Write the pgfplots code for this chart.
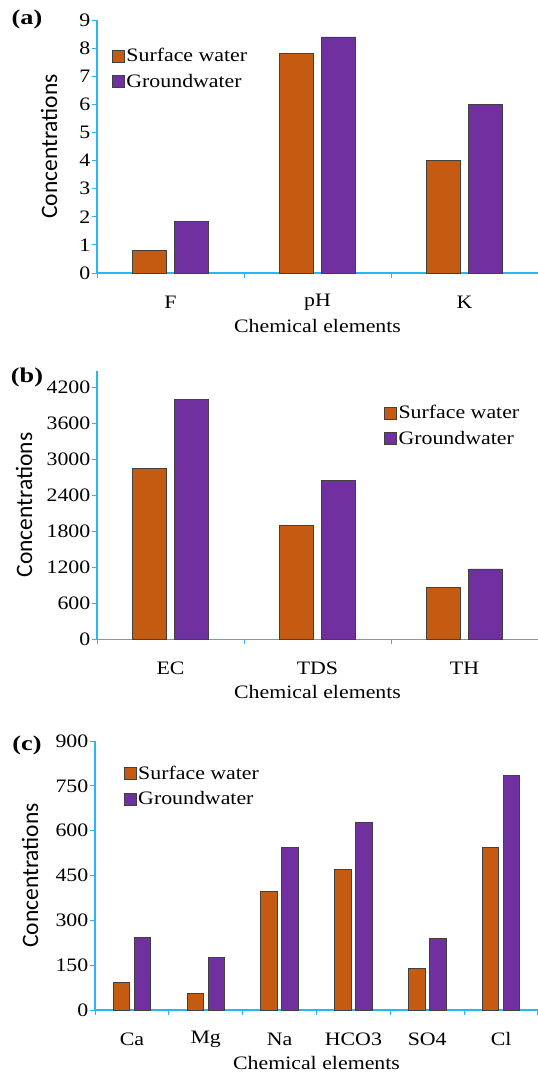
\documentclass[border=0pt]{standalone}
\usepackage{fontspec}
\setmainfont{Liberation Serif}[FakeStretch=1.15]
\newfontfamily\calfont{Carlito}
\newfontfamily\panelfont{Liberation Serif}[FakeStretch=1.25]
\usepackage{pgfplots}
\pgfplotsset{compat=1.18}

\definecolor{surf}{RGB}{197,90,17}
\definecolor{grnd}{RGB}{112,48,160}
\definecolor{axblue}{RGB}{41,182,246}
\definecolor{edge}{RGB}{64,64,64}

\newcommand{\txt}{\fontsize{19bp}{22bp}\selectfont}

\pgfplotsset{
  panel/.style={
    scale only axis,
    anchor=south west,
    axis lines*=left,
    axis line style={axblue, line width=1.5bp, -},
    ymin=0,
    tick align=outside,
    major tick length=5bp, minor tick length=5bp,
    major x tick style={draw=none},
    minor x tick style={axblue, line width=1bp},
    y tick style={axblue, line width=1bp},
    tick label style={font=\txt},
    yticklabel style={inner xsep=1.5bp},
    xticklabel style={anchor=center, yshift=-24bp},
    /pgf/number format/assume math mode=true,
    /pgf/number format/1000 sep={},
    every axis x label/.style={at={(rel axis cs:0.5,0)}, anchor=center, yshift=-53bp, font=\txt},
    every axis y label/.style={at={(rel axis cs:0,0.5)}, rotate=90, anchor=center,
      font=\calfont\fontsize{23.5bp}{26bp}\selectfont},
    xlabel={Chemical elements},
    ylabel={Concentrations},
    every axis plot/.append style={draw=edge, line width=0.75bp},
    legend cell align=left,
    legend style={draw=none, fill=none, font=\txt, anchor=north west,
      inner sep=0pt, row sep=8bp, nodes={inner sep=1.5bp}},
  },
  sqlegend/.style={
    legend image code/.code={\draw[##1, draw=edge, line width=0.75bp] (0bp,-6bp) rectangle (12bp,6bp);},
  },
}

\begin{document}
\begin{tikzpicture}
\useasboundingbox (0,0) rectangle (538bp,-1080bp);

% (a)
\begin{axis}[panel, at={(97bp,-273bp)}, width=441bp, height=253bp,
  ybar=8bp, bar width=34bp, sqlegend,
  ymax=9, ytick={0,1,...,9},
  xmin=-0.5, xmax=2.5, xtick={0,1,2}, xticklabels={F,pH,K},
  minor xtick={-0.5,0.5,1.5,2.5},
  ylabel style={yshift=48bp},
  legend style={at={(axis description cs:0.034,0.894)}}]
\addplot[fill=surf] coordinates {(0,0.8) (1,7.8) (2,4.0)};
\addplot[fill=grnd] coordinates {(0,1.85) (1,8.4) (2,6.0)};
\legend{Surface water, Groundwater}
\end{axis}

% (b)
\begin{axis}[panel, at={(97bp,-639.3bp)}, width=441bp, height=268.4bp,
  ybar=8bp, bar width=34bp, sqlegend,
  ymax=4480, ytick={0,600,...,4200},
  xmin=-0.5, xmax=2.5, xtick={0,1,2}, xticklabels={EC,TDS,TH},
  minor xtick={-0.5,0.5,1.5,2.5},
  ylabel style={yshift=73bp},
  legend style={at={(axis description cs:0.651,0.877)}}]
\addplot[fill=surf] coordinates {(0,2850) (1,1900) (2,870)};
\addplot[fill=grnd] coordinates {(0,4000) (1,2650) (2,1175)};
\legend{Surface water, Groundwater}
\end{axis}

% (c)
\begin{axis}[panel, at={(95bp,-1010bp)}, width=443bp, height=269bp,
  ybar=4.5bp, bar width=16.5bp, sqlegend,
  ymax=900, ytick={0,150,...,900},
  xmin=-0.5, xmax=5.5, xtick={0,...,5}, xticklabels={Ca,Mg,Na,HCO3,SO4,Cl},
  minor xtick={-0.5,0.5,...,5.5},
  ylabel style={yshift=65bp},
  legend style={at={(axis description cs:0.065,0.914)}}]
\addplot[fill=surf] coordinates {(0,91) (1,56) (2,398) (3,469) (4,139) (5,544)};
\addplot[fill=grnd] coordinates {(0,242) (1,176) (2,544) (3,628) (4,240) (5,784)};
\legend{Surface water, Groundwater}
\end{axis}

\node[font=\panelfont\bfseries\fontsize{21bp}{24bp}\selectfont] at (27bp,-19bp) {(a)};
\node[font=\panelfont\bfseries\fontsize{21bp}{24bp}\selectfont] at (27bp,-377bp) {(b)};
\node[font=\panelfont\bfseries\fontsize{21bp}{24bp}\selectfont] at (27bp,-745bp) {(c)};
\end{tikzpicture}
\end{document}
